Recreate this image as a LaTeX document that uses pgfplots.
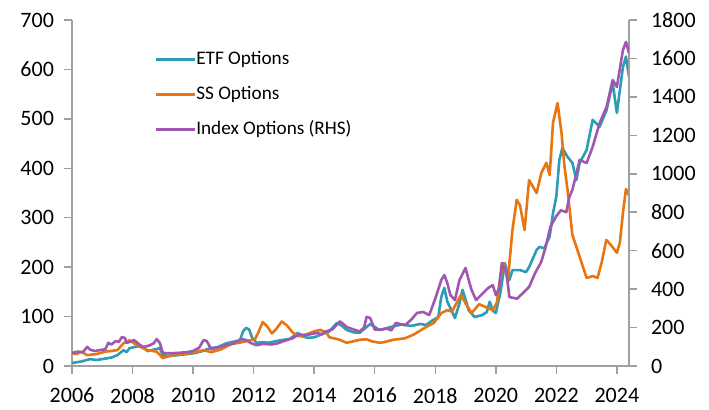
\documentclass[border=0pt]{standalone}
\usepackage{fontspec}
\setmainfont{Carlito}
\usepackage{pgfplots}
\pgfplotsset{compat=1.18}
\definecolor{etf}{RGB}{43,157,181}
\definecolor{ssc}{RGB}{232,117,17}
\definecolor{idx}{RGB}{160,87,176}
\definecolor{axgray}{RGB}{160,160,160}
\begin{document}
\begin{tikzpicture}
\pgfplotsset{
  every axis/.append style={
    scale only axis, width=278.5pt, height=173pt,
    xmin=2006, xmax=2024.4,
    font=\fontsize{11}{13}\selectfont,
    /pgf/number format/assume math mode=true,
    /pgf/number format/1000 sep={},
    tick align=outside, major tick length=4pt,
    axis line style={axgray, line width=0.75pt},
    tick style={axgray, line width=0.75pt},
    every axis plot/.append style={line width=1.3pt, line join=round},
  }
}
\begin{axis}[
  axis y line*=left, axis x line*=bottom,
  ymin=0, ymax=700, ytick={0,100,...,700},
  xtick={2006,2008,...,2024},
  xticklabel style={yshift=-3.5pt},
  yticklabel style={xshift=-1.5pt},
  legend style={draw=none, fill=none, at={(0.137,0.925)}, anchor=north west,
    font=\fontsize{9.6}{11}\selectfont, row sep=8.5pt,
    nodes={inner sep=0pt, text height=7pt, text depth=2pt}},
  legend cell align=left,
  legend image code/.code={\draw[#1] (0pt,0pt) -- (19.5pt,0pt);},
  legend columns=1,
  /tikz/every even column/.append style={column sep=2pt},
]
\coordinate (O) at (rel axis cs:0,0);
\addplot[etf] coordinates {
(2006.0,6) (2006.3,9) (2006.6,14) (2006.8,12) (2007.1,15) (2007.3,17) (2007.5,22) (2007.7,32) (2007.8,28) (2007.9,36)
(2008.2,40) (2008.4,35) (2008.5,30) (2008.7,33) (2008.9,36) (2009.0,22) (2009.2,20) (2009.5,22) (2009.8,24) (2010.05,26)
(2010.3,30) (2010.55,36) (2010.8,38) (2011.1,46) (2011.4,50) (2011.55,52) (2011.65,70) (2011.75,77) (2011.85,74) (2011.95,57)
(2012.1,47) (2012.3,48) (2012.5,47) (2012.7,50) (2013.0,53) (2013.2,55) (2013.46,67) (2013.6,60) (2013.8,57) (2014.0,58)
(2014.2,63) (2014.5,70) (2014.75,87) (2014.9,82) (2015.07,73) (2015.3,68) (2015.5,67) (2015.85,85) (2016.15,73) (2016.3,75)
(2016.6,80) (2016.9,84) (2017.2,81) (2017.5,85) (2017.7,83) (2017.9,92) (2018.1,99) (2018.2,140) (2018.3,158) (2018.4,130)
(2018.5,117) (2018.65,97) (2018.8,127) (2018.9,154) (2019.0,135) (2019.1,113) (2019.3,99) (2019.55,103) (2019.7,109) (2019.8,130)
(2019.9,112) (2020.0,107) (2020.15,148) (2020.3,208) (2020.45,174) (2020.55,194) (2020.8,194) (2021.0,190) (2021.1,200) (2021.35,235)
(2021.45,241) (2021.6,238) (2021.78,262) (2021.89,309) (2022.0,343) (2022.1,417) (2022.2,441) (2022.37,423) (2022.53,411) (2022.66,376)
(2022.77,411) (2023.0,437) (2023.2,498) (2023.43,484) (2023.66,518) (2023.86,573) (2024.0,512) (2024.2,605) (2024.3,626) (2024.4,585)
};
\addlegendentry{ETF Options}
\addplot[ssc] coordinates {
(2006.0,26) (2006.15,24) (2006.3,29) (2006.5,22) (2006.8,24) (2007.1,29) (2007.5,32) (2007.7,46) (2007.9,52) (2008.1,44)
(2008.3,38) (2008.5,32) (2008.8,29) (2009.0,16) (2009.1,18) (2009.35,22) (2009.9,26) (2010.35,32) (2010.6,28) (2010.9,33)
(2011.25,44) (2011.6,48) (2011.9,52) (2012.05,55) (2012.15,67) (2012.3,89) (2012.45,80) (2012.6,66) (2012.75,75) (2012.93,90)
(2013.1,82) (2013.3,67) (2013.5,60) (2013.75,64) (2014.0,70) (2014.2,73) (2014.4,68) (2014.5,58) (2014.8,54) (2015.07,47)
(2015.3,50) (2015.5,53) (2015.73,54) (2015.9,50) (2016.15,47) (2016.3,48) (2016.6,53) (2017.0,56) (2017.3,64) (2017.7,79)
(2017.95,87) (2018.2,107) (2018.4,113) (2018.55,110) (2018.85,144) (2019.0,127) (2019.2,107) (2019.45,125) (2019.75,117) (2019.9,113)
(2020.03,127) (2020.15,180) (2020.25,208) (2020.4,174) (2020.55,275) (2020.69,336) (2020.8,325) (2020.95,275) (2021.1,376) (2021.35,350)
(2021.5,390) (2021.67,411) (2021.78,386) (2021.89,492) (2022.04,532) (2022.17,472) (2022.27,403) (2022.37,356) (2022.53,265) (2022.77,221)
(2023.0,178) (2023.2,182) (2023.36,178) (2023.5,210) (2023.65,255) (2023.8,245) (2024.0,229) (2024.1,250) (2024.2,310) (2024.3,358) (2024.4,345)
};
\addlegendentry{SS Options}
\addlegendimage{idx, line width=1.3pt}
\addlegendentry{Index Options (RHS)}
\end{axis}
\begin{axis}[
  axis y line*=right, axis x line=none,
  ymin=0, ymax=1800, ytick={0,200,...,1800},
  yticklabel style={xshift=3.5pt},
]
\addplot[idx] coordinates {
(2006.0,68) (2006.2,75) (2006.35,70) (2006.5,99) (2006.6,85) (2006.75,78) (2006.9,82) (2007.1,87) (2007.2,120) (2007.3,112)
(2007.45,130) (2007.55,125) (2007.65,151) (2007.75,145) (2007.8,120) (2007.95,128) (2008.05,135) (2008.2,115) (2008.35,99) (2008.5,104)
(2008.6,110) (2008.7,118) (2008.8,140) (2008.9,120) (2009.0,68) (2009.2,66) (2009.5,68) (2009.8,72) (2010.0,78) (2010.2,95)
(2010.35,135) (2010.45,130) (2010.6,87) (2010.8,95) (2011.1,110) (2011.3,115) (2011.6,140) (2011.75,135) (2011.9,120) (2012.1,108)
(2012.3,115) (2012.6,112) (2012.8,118) (2013.0,130) (2013.3,145) (2013.5,165) (2013.7,160) (2014.1,172) (2014.25,165) (2014.4,180)
(2014.6,190) (2014.85,232) (2014.95,220) (2015.07,203) (2015.3,190) (2015.5,180) (2015.65,200) (2015.73,255) (2015.85,250) (2016.0,190)
(2016.2,188) (2016.4,195) (2016.55,185) (2016.7,224) (2016.85,218) (2017.0,212) (2017.2,240) (2017.4,276) (2017.6,281) (2017.8,265)
(2018.0,350) (2018.2,447) (2018.3,473) (2018.4,430) (2018.5,369) (2018.65,343) (2018.8,447) (2019.0,510) (2019.1,450) (2019.2,395)
(2019.35,343) (2019.55,375) (2019.75,406) (2019.9,421) (2020.0,369) (2020.1,400) (2020.2,536) (2020.35,484) (2020.45,359) (2020.7,350)
(2020.9,380) (2021.1,411) (2021.3,484) (2021.5,541) (2021.65,620) (2021.8,723) (2022.0,780) (2022.15,810) (2022.33,800) (2022.43,880)
(2022.53,916) (2022.77,1072) (2023.0,1056) (2023.2,1140) (2023.43,1264) (2023.66,1348) (2023.86,1488) (2024.0,1452) (2024.2,1644) (2024.3,1686) (2024.4,1628)
};
\end{axis}
\path (O) ++(-36pt,-18.5pt) rectangle ++(354.5pt,201.5pt);
\end{tikzpicture}
\end{document}
